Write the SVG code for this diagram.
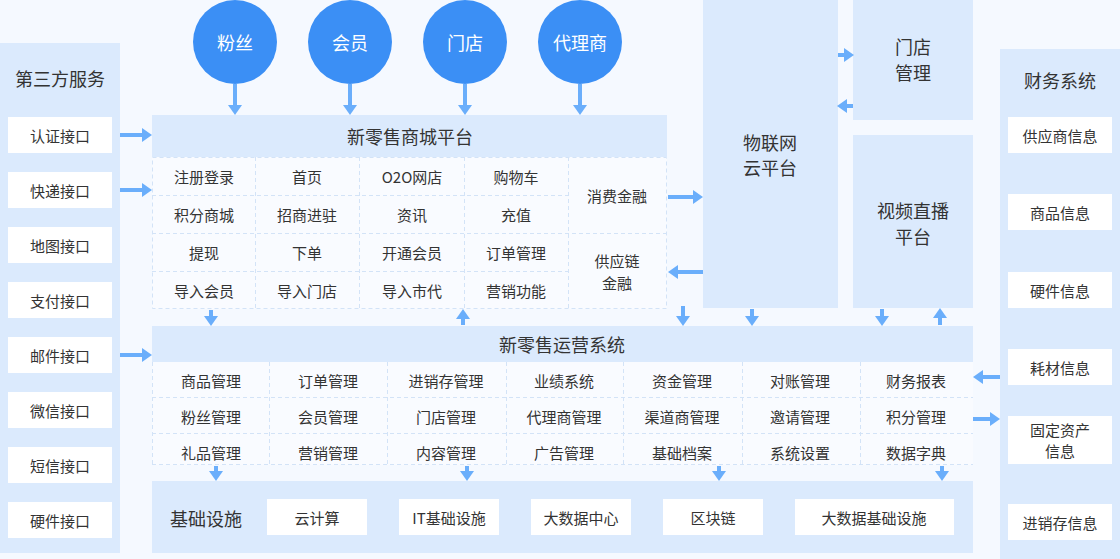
<svg xmlns="http://www.w3.org/2000/svg" width="1120" height="559" viewBox="0 0 1120 559">
<style>
text{font-family:"Noto Sans CJK SC","Noto Sans",sans-serif;fill:#333;text-anchor:middle;dominant-baseline:central}
.t{font-size:18px}
.c{font-size:15px}
.w{fill:#fff;font-size:18px}
.panel{fill:#dbeafd}
.box{fill:#fff}
.grid{fill:#f9fbff}
.dash{stroke:#d3e3f7;stroke-width:1;stroke-dasharray:4 3;fill:none}
.circ{fill:#3b8ff5}
.arr{stroke:#6aaefb;stroke-width:4;fill:none;marker-end:url(#ah)}
</style>
<defs>
<marker id="ah" markerUnits="userSpaceOnUse" markerWidth="10" markerHeight="14" refX="0" refY="7" orient="auto" viewBox="0 0 10 14">
<path d="M0,0 L10,7 L0,14 z" fill="#6aaefb"/>
</marker>
</defs>
<rect width="1120" height="559" fill="#f5f9ff"/>

<g id="third-party">
<rect class="panel" x="0" y="43" width="120" height="510"/>
<text class="t" x="60" y="78">第三方服务</text>
<rect class="box" x="8" y="117" width="104" height="36"/><text class="c" x="60" y="135">认证接口</text>
<rect class="box" x="8" y="172" width="104" height="36"/><text class="c" x="60" y="190">快递接口</text>
<rect class="box" x="8" y="227" width="104" height="36"/><text class="c" x="60" y="245">地图接口</text>
<rect class="box" x="8" y="282" width="104" height="36"/><text class="c" x="60" y="300">支付接口</text>
<rect class="box" x="8" y="337" width="104" height="36"/><text class="c" x="60" y="355">邮件接口</text>
<rect class="box" x="8" y="392" width="104" height="36"/><text class="c" x="60" y="410">微信接口</text>
<rect class="box" x="8" y="447" width="104" height="36"/><text class="c" x="60" y="465">短信接口</text>
<rect class="box" x="8" y="502" width="104" height="36"/><text class="c" x="60" y="520">硬件接口</text>
</g>

<g id="fans"><circle class="circ" cx="235" cy="42" r="42"/><text class="w" x="235" y="42">粉丝</text></g>
<g id="members"><circle class="circ" cx="350" cy="42" r="42"/><text class="w" x="350" y="42">会员</text></g>
<g id="stores"><circle class="circ" cx="465" cy="42" r="42"/><text class="w" x="465" y="42">门店</text></g>
<g id="agents"><circle class="circ" cx="580" cy="42" r="42"/><text class="w" x="580" y="42">代理商</text></g>

<g id="mall">
<rect class="panel" x="152" y="115" width="515" height="42"/>
<text class="t" x="410" y="136">新零售商城平台</text>
<rect class="grid" x="152" y="157" width="515" height="152"/>
<rect class="dash" x="152.5" y="157.5" width="514" height="151"/>
<path class="dash" d="M255.5,157V309M359.5,157V309M464.5,157V309M568.5,157V309M152,195.5H568M152,233.5H667M152,271.5H568"/>
<text class="c" x="204" y="176">注册登录</text><text class="c" x="307" y="176">首页</text><text class="c" x="412" y="176">O2O网店</text><text class="c" x="516" y="176">购物车</text>
<text class="c" x="204" y="214">积分商城</text><text class="c" x="307" y="214">招商进驻</text><text class="c" x="412" y="214">资讯</text><text class="c" x="516" y="214">充值</text>
<text class="c" x="204" y="252">提现</text><text class="c" x="307" y="252">下单</text><text class="c" x="412" y="252">开通会员</text><text class="c" x="516" y="252">订单管理</text>
<text class="c" x="204" y="290">导入会员</text><text class="c" x="307" y="290">导入门店</text><text class="c" x="412" y="290">导入市代</text><text class="c" x="516" y="290">营销功能</text>
<text class="c" x="617" y="195">消费金融</text>
<text class="c" x="617" y="260">供应链</text><text class="c" x="617" y="282">金融</text>
</g>

<g id="iot">
<rect class="panel" x="703" y="0" width="135" height="308"/>
<text class="t" x="770" y="142">物联网</text><text class="t" x="770" y="167">云平台</text>
</g>
<g id="store-mgmt">
<rect class="panel" x="853" y="0" width="120" height="120"/>
<text class="t" x="913" y="46">门店</text><text class="t" x="913" y="72">管理</text>
</g>
<g id="live">
<rect class="panel" x="853" y="135" width="120" height="173"/>
<text class="t" x="913" y="210">视频直播</text><text class="t" x="913" y="236">平台</text>
</g>

<g id="ops">
<rect class="panel" x="152" y="326" width="821" height="36"/>
<text class="t" x="562" y="344">新零售运营系统</text>
<rect class="grid" x="152" y="362" width="821" height="103"/>
<path class="dash" d="M152.5,362V465M269.5,362V465M387.5,362V465M506.5,362V465M623.5,362V465M742.5,362V465M860.5,362V465M152,397.5H973M152,433.5H973M152,464.5H973"/>
<text class="c" x="211" y="380">商品管理</text><text class="c" x="328" y="380">订单管理</text><text class="c" x="446" y="380">进销存管理</text><text class="c" x="564" y="380">业绩系统</text><text class="c" x="682" y="380">资金管理</text><text class="c" x="800" y="380">对账管理</text><text class="c" x="916" y="380">财务报表</text>
<text class="c" x="211" y="416">粉丝管理</text><text class="c" x="328" y="416">会员管理</text><text class="c" x="446" y="416">门店管理</text><text class="c" x="564" y="416">代理商管理</text><text class="c" x="682" y="416">渠道商管理</text><text class="c" x="800" y="416">邀请管理</text><text class="c" x="916" y="416">积分管理</text>
<text class="c" x="211" y="452">礼品管理</text><text class="c" x="328" y="452">营销管理</text><text class="c" x="446" y="452">内容管理</text><text class="c" x="564" y="452">广告管理</text><text class="c" x="682" y="452">基础档案</text><text class="c" x="800" y="452">系统设置</text><text class="c" x="916" y="452">数据字典</text>
</g>

<g id="infra">
<rect class="panel" x="152" y="481" width="821" height="72"/>
<text class="t" x="206" y="518">基础设施</text>
<rect class="box" x="267" y="499" width="100" height="36"/><text class="c" x="317" y="517">云计算</text>
<rect class="box" x="399" y="499" width="100" height="36"/><text class="c" x="449" y="517">IT基础设施</text>
<rect class="box" x="531" y="499" width="100" height="36"/><text class="c" x="581" y="517">大数据中心</text>
<rect class="box" x="663" y="499" width="100" height="36"/><text class="c" x="713" y="517">区块链</text>
<rect class="box" x="795" y="499" width="159" height="36"/><text class="c" x="874" y="517">大数据基础设施</text>
</g>

<g id="finance">
<rect class="panel" x="1000" y="49" width="120" height="510"/>
<text class="t" x="1060" y="80">财务系统</text>
<rect class="box" x="1008" y="117" width="104" height="36"/><text class="c" x="1060" y="135">供应商信息</text>
<rect class="box" x="1008" y="194" width="104" height="36"/><text class="c" x="1060" y="212">商品信息</text>
<rect class="box" x="1008" y="272" width="104" height="36"/><text class="c" x="1060" y="290">硬件信息</text>
<rect class="box" x="1008" y="349" width="104" height="36"/><text class="c" x="1060" y="367">耗材信息</text>
<rect class="box" x="1008" y="416" width="104" height="48"/><text class="c" x="1060" y="429">固定资产</text><text class="c" x="1060" y="450">信息</text>
<rect class="box" x="1008" y="504" width="104" height="36"/><text class="c" x="1060" y="522">进销存信息</text>
</g>

<g id="connectors">
<line class="arr" x1="235" y1="84" x2="235" y2="105"/>
<line class="arr" x1="350" y1="84" x2="350" y2="105"/>
<line class="arr" x1="465" y1="84" x2="465" y2="105"/>
<line class="arr" x1="580" y1="84" x2="580" y2="105"/>
<line class="arr" x1="120" y1="135" x2="142" y2="135"/>
<line class="arr" x1="120" y1="190" x2="142" y2="190"/>
<line class="arr" x1="120" y1="355" x2="142" y2="355"/>
<line class="arr" x1="668" y1="197" x2="693" y2="197"/>
<line class="arr" x1="703" y1="272" x2="678" y2="272"/>
<line class="arr" x1="838" y1="55" x2="844" y2="55"/>
<line class="arr" x1="853" y1="106" x2="847" y2="106"/>
<line class="arr" x1="211" y1="310" x2="211" y2="316"/>
<line class="arr" x1="463" y1="325" x2="463" y2="319"/>
<line class="arr" x1="683" y1="306" x2="683" y2="316"/>
<line class="arr" x1="752" y1="309" x2="752" y2="316"/>
<line class="arr" x1="882" y1="309" x2="882" y2="316"/>
<line class="arr" x1="940" y1="325" x2="940" y2="318"/>
<line class="arr" x1="1000" y1="377" x2="983" y2="377"/>
<line class="arr" x1="973" y1="419" x2="990" y2="419"/>
<line class="arr" x1="216" y1="466" x2="216" y2="471"/>
<line class="arr" x1="467" y1="466" x2="467" y2="471"/>
<line class="arr" x1="719" y1="466" x2="719" y2="471"/>
<line class="arr" x1="942" y1="466" x2="942" y2="471"/>
</g>
</svg>
